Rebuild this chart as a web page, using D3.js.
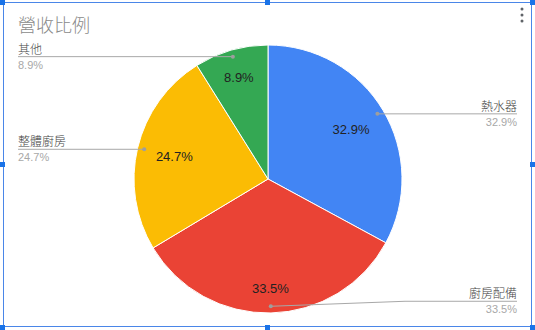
<!DOCTYPE html>
<meta charset="utf-8">
<style>
body { margin: 0; background: #fff; }
text { font-family: "Liberation Sans", Arial, "Noto Sans CJK TC", sans-serif; }
</style>
<svg width="535" height="330"></svg>
<script src="https://d3js.org/d3.v7.min.js"></script>
<script>

var categories = ["熱水器", "廚房配備", "整體廚房", "其他"],
    values = [32.9, 33.5, 24.7, 8.9],
    colors = ["#4285f4", "#ea4335", "#fbbc04", "#34a853"];

var svg = d3.select("svg"),
    cx = 268, cy = 179, r = 134;

// selection frame
var frame = svg.append("g");
frame.append("rect")
    .attr("x", 3.5).attr("y", 2.5).attr("width", 528).attr("height", 324)
    .attr("fill", "none").attr("stroke", "#4a86e8").attr("stroke-width", 1);
[[0, 0], [265, 0], [530, 0], [0, 162], [530, 162], [0, 325], [265, 325], [530, 325]].forEach(function(p) {
  frame.append("rect")
      .attr("x", p[0]).attr("y", p[1]).attr("width", 5).attr("height", 5)
      .attr("fill", "#1a73e8");
});

svg.append("text")
    .attr("x", 18).attr("y", 32)
    .attr("fill", "#8a8a8a")
    .style("font-size", "18px")
    .style("font-weight", 300)
    .text("營收比例");

[9, 15, 21].forEach(function(y) {
  svg.append("circle").attr("cx", 522).attr("cy", y).attr("r", 1.5).attr("fill", "#5f6368");
});

var pie = d3.pie().sort(null).value(function(d) { return d; });
var arcs = pie(values);
var arc = d3.arc().innerRadius(0).outerRadius(r);
var dotArc = d3.arc().innerRadius(r * 0.95).outerRadius(r * 0.95);

var g = svg.append("g").attr("transform", "translate(" + cx + "," + cy + ")");

g.selectAll("path")
  .data(arcs)
  .enter().append("path")
    .attr("d", arc)
    .attr("fill", function(d, i) { return colors[i]; })
    .attr("stroke", "#fff")
    .attr("stroke-width", 1);

// inner labels: push each box out until its outer edge sits ~116px from centre
g.selectAll(".inlabel")
  .data(arcs)
  .enter().append("text")
    .attr("class", "inlabel")
    .attr("dy", "0.35em")
    .attr("text-anchor", "middle")
    .attr("fill", "#222")
    .style("font-size", "13px")
    .text(function(d) { return d.value.toFixed(1) + "%"; })
    .attr("transform", function(d) {
      var a = (d.startAngle + d.endAngle) / 2,
          b = this.getBBox(),
          rr = 116 - (Math.abs(Math.sin(a)) * b.width / 2 + Math.abs(Math.cos(a)) * 6.5);
      return "translate(" + d3.arc().innerRadius(rr).outerRadius(rr).centroid(d) + ")";
    });

// leader lines: left side labels at x=18, right side at x=517
arcs.forEach(function(d, i) {
  var p = dotArc.centroid(d),
      px = cx + p[0], py = cy + p[1],
      right = px > cx,
      lineY = (i === 1) ? py - 5 : py,
      endX = right ? 517 : 18;
  var pts = (i === 1) ? [[px, py], [405, lineY], [endX, lineY]] : [[px, py], [endX, lineY]];
  svg.append("path")
      .attr("d", d3.line()(pts))
      .attr("fill", "none")
      .attr("stroke", "#a8a8a8")
      .attr("stroke-width", 1);
  svg.append("circle")
      .attr("cx", px).attr("cy", py).attr("r", 2)
      .attr("fill", "#9e9e9e");
  svg.append("text")
      .attr("x", endX).attr("y", lineY - 3)
      .attr("text-anchor", right ? "end" : "start")
      .attr("fill", "#444")
      .style("font-size", "12px")
      .style("font-weight", 300)
      .text(categories[i]);
  svg.append("text")
      .attr("x", endX).attr("y", lineY + 12)
      .attr("text-anchor", right ? "end" : "start")
      .attr("fill", "#a8a8a8")
      .style("font-size", "11px")
      .text(d.value.toFixed(1) + "%");
});

</script>
